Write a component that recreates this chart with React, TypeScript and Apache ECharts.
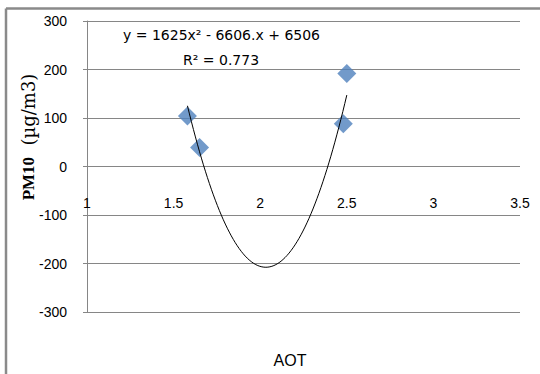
import React, { useEffect, useRef } from "react";
import * as echarts from "echarts";

const aot: number[] = [1.58, 1.65, 2.48, 2.5];
const pm10: number[] = [104, 39, 88, 192];
const yTicks: number[] = [-300, -200, -100, 0, 100, 200, 300];
const xTicks: number[] = [1, 1.5, 2, 2.5, 3, 3.5];
// Trendline coefficients shown in the chart's equation
const coefA = 1625;
const coefB = -6606;
const coefC = 6506;
const equationText = "y = 1625x² - 6606.x + 6506";
const r2Text = "R² = 0.773";
const yTitleMain = "PM10";
const yTitleUnit = "(µg/m3)";
const xTitle = "AOT";

export default function App() {
  const ref = useRef<HTMLDivElement>(null);
  useEffect(() => {
    document.body.style.margin = "0";
    if (!ref.current) return;
    const chart = echarts.init(ref.current, null, { renderer: "svg" });
    const xmin = Math.min(...aot);
    const xmax = Math.max(...aot);
    const trend: number[][] = [];
    const n = 80;
    for (let i = 0; i <= n; i++) {
      const x = xmin + ((xmax - xmin) * i) / n;
      trend.push([x, coefA * x * x + coefB * x + coefC]);
    }
    const gray = "#868686";
    const labelFont = "Liberation Sans";
    const gridTop = 21;
    const gridBottom = 62;
    const plotH = 374 - gridTop - gridBottom;
    const ymin = yTicks[0];
    const ymax = yTicks[yTicks.length - 1];
    // distance from the bottom of the plot to the value 0, so the x labels sit under the zero line
    const zeroOffset = -(plotH * (0 - ymin)) / (ymax - ymin);
    chart.setOption({
      animation: false,
      backgroundColor: "#ffffff",
      grid: { left: 87, right: 20, top: gridTop, bottom: gridBottom, containLabel: false },
      xAxis: {
        type: "value",
        min: xTicks[0],
        max: xTicks[xTicks.length - 1],
        interval: 0.5,
        offset: zeroOffset,
        axisLine: { show: false, onZero: false },
        axisTick: { show: false },
        splitLine: { show: false },
        axisLabel: { margin: 29, color: "#000", fontSize: 14, fontFamily: labelFont },
      },
      yAxis: {
        type: "value",
        min: ymin,
        max: ymax,
        interval: 100,
        axisLine: { show: true, lineStyle: { color: gray, width: 1 } },
        axisTick: { show: true, length: 4, lineStyle: { color: gray } },
        splitLine: { show: true, lineStyle: { color: gray, width: 1 } },
        axisLabel: { margin: 20, color: "#000", fontSize: 14, fontFamily: labelFont },
      },
      series: [
        {
          type: "scatter",
          data: aot.map((x, i) => [x, pm10[i]]),
          symbol: "diamond",
          symbolSize: [19, 19],
          itemStyle: { color: "#4F81BD" },
          z: 2,
        },
        {
          type: "line",
          data: trend,
          showSymbol: false,
          symbol: "none",
          smooth: false,
          lineStyle: { color: "#000", width: 1 },
          z: 3,
        },
      ],
      graphic: [
        {
          type: "line",
          shape: { x1: 6, y1: 8.5, x2: 540, y2: 8.5 },
          style: { stroke: "#8a8a8a", lineWidth: 2.5 },
        },
        {
          type: "line",
          shape: { x1: 6, y1: 8.5, x2: 6, y2: 374 },
          style: { stroke: "#8a8a8a", lineWidth: 2.5 },
        },
        {
          type: "text",
          x: 123,
          y: 35,
          style: {
            text: equationText,
            fill: "#000",
            font: "14px 'DejaVu Sans'",
            verticalAlign: "middle",
          },
        },
        {
          type: "text",
          x: 183,
          y: 60,
          style: {
            text: r2Text,
            fill: "#000",
            font: "14px 'DejaVu Sans'",
            verticalAlign: "middle",
          },
        },
        {
          type: "text",
          x: 28,
          y: 137,
          rotation: Math.PI / 2,
          style: {
            text: "{a|" + yTitleMain + "}{b|  " + yTitleUnit + "}",
            fill: "#000",
            align: "center",
            verticalAlign: "middle",
            rich: {
              a: { font: "bold 17px 'Liberation Serif'", fill: "#000" },
              b: { font: "18px 'DejaVu Serif'", fill: "#000" },
            },
          },
        },
        {
          type: "text",
          x: 290,
          y: 360,
          style: {
            text: xTitle,
            fill: "#000",
            font: "16px 'Liberation Sans'",
            align: "center",
            verticalAlign: "middle",
          },
        },
      ],
    });
    return () => chart.dispose();
  }, []);
  return <div ref={ref} style={{ width: 540, height: 374 }} />;
}
